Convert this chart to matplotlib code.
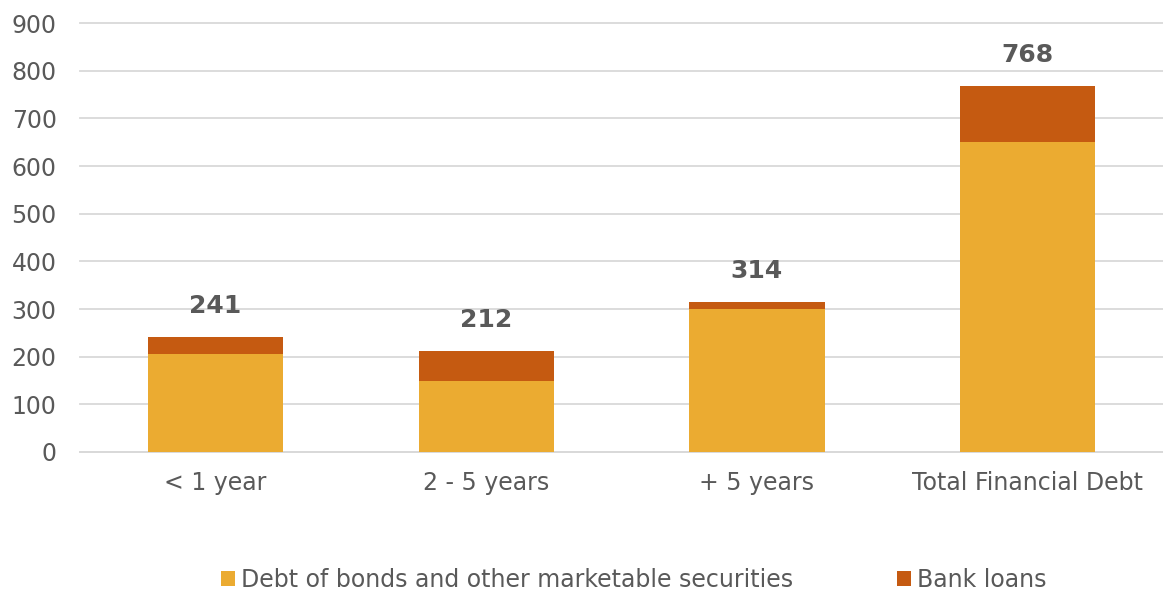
import matplotlib
matplotlib.use("Agg")
import matplotlib.pyplot as plt
import numpy as np

categories = ["< 1 year", "2 - 5 years", "+ 5 years", "Total Financial Debt"]
bonds = [205, 149, 300, 650]
bank_loans = [36, 63, 14, 118]
totals = [241, 212, 314, 768]
yticks = [0, 100, 200, 300, 400, 500, 600, 700, 800, 900]

c_bonds = "#EBAB31"
c_bank = "#C55A11"
gray = "#595959"

plt.rcParams['font.family'] = ['DejaVu Sans']
fig = plt.figure(figsize=(11.63, 5.92), dpi=100)
ax = fig.add_axes([0.069, 0.2365, 0.931, 0.7245])

x = np.arange(len(categories))
ax.bar(x, bonds, width=0.5, color=c_bonds, label="Debt of bonds and other marketable securities", zorder=3)
ax.bar(x, bank_loans, width=0.5, bottom=bonds, color=c_bank, label="Bank loans", zorder=3)

for xi, t in zip(x, totals):
    ax.text(xi, t + 66, str(t), ha="center", va="center", fontsize=18, fontweight="bold", color=gray)

ax.set_xlim(-0.5, 3.5)
ax.set_ylim(0, 900)
ax.set_yticks(yticks)
ax.set_xticks(x)
ax.set_xticklabels(categories)
ax.yaxis.grid(True, color="#D9D9D9", linewidth=1.3, zorder=0)
for gl in ax.get_ygridlines():
    gl.set_clip_on(False)
ax.set_axisbelow(True)
for s in ax.spines.values():
    s.set_visible(False)
ax.spines['bottom'].set_visible(True)
ax.spines['bottom'].set_color("#D9D9D9")
ax.spines['bottom'].set_linewidth(1.3)
ax.tick_params(axis='both', length=0, labelsize=17, colors=gray)
ax.tick_params(axis='y', pad=17)
ax.tick_params(axis='x', pad=14)

fig.legend(loc="center", bbox_to_anchor=(0.545, 0.02), ncol=2, frameon=False,
           fontsize=17, labelcolor=gray, handlelength=0.6, handleheight=0.6,
           handletextpad=0.25, columnspacing=4.4)

fig.savefig("out.png", dpi=100)
